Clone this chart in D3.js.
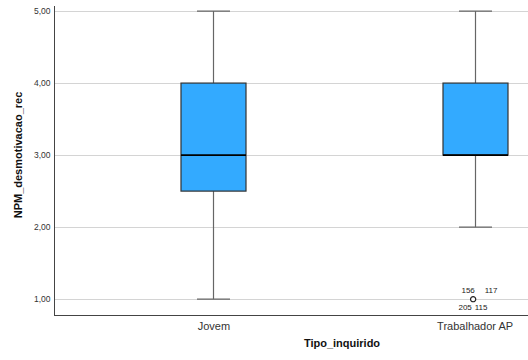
<!DOCTYPE html>
<html>
<head>
<meta charset="utf-8">
<script src="https://cdn.jsdelivr.net/npm/d3@7"></script>
<style>
  body { margin: 0; background: #fff; }
  svg { display: block; font-family: Arial, "Liberation Sans", sans-serif; }
</style>
</head>
<body>
<svg id="chart" width="528" height="360"></svg>
<script>
// Box-plot summaries per respondent type
const categories = ["Jovem", "Trabalhador AP"];
const whiskerLow = [1, 2];
const q1 = [2.5, 3];
const median = [3, 3];
const q3 = [4, 4];
const whiskerHigh = [5, 5];
const yTicks = [1, 2, 3, 4, 5];

// Outliers (category, value, case ids)
const outlierCategory = ["Trabalhador AP"];
const outlierValue = [1];
const outlierIds = [["156", "117", "205", "115"]];

const svg = d3.select("#chart");
const plotLeft = 54, plotTop = 6, plotBottom = 315, plotRight = 634;

const x = d3.scalePoint().domain(categories).range([plotLeft, plotRight]).padding(0.61);
const y = d3.scaleLinear().domain([0.78, 5.07]).range([plotBottom, plotTop]);
const fmt = v => d3.format(".2f")(v).replace(".", ",");

// grid lines
svg.append("g").selectAll("line").data(yTicks).join("line")
  .attr("x1", plotLeft).attr("x2", 528)
  .attr("y1", d => Math.round(y(d)) + 0.5).attr("y2", d => Math.round(y(d)) + 0.5)
  .attr("stroke", "#d4d4d4").attr("stroke-width", 1);

// y axis
const yAxis = svg.append("g").attr("transform", `translate(${plotLeft + 0.5},0)`)
  .call(d3.axisLeft(y).tickValues(yTicks).tickFormat(fmt).tickSize(0).tickPadding(4));
yAxis.select(".domain").attr("stroke", "#444").attr("d", `M0,${plotTop}V${plotBottom}`);
yAxis.selectAll("text").attr("font-size", 8.5).attr("fill", "#333")
  .attr("font-family", "Arial, 'Liberation Sans', sans-serif");

// x axis
const xAxis = svg.append("g").attr("transform", `translate(0,${plotBottom + 0.5})`)
  .call(d3.axisBottom(x).tickSize(0).tickPadding(7));
xAxis.select(".domain").attr("stroke", "#444").attr("d", `M${plotLeft},0H${plotRight}`);
xAxis.selectAll("text").attr("font-size", 11).attr("fill", "#333")
  .attr("font-family", "Arial, 'Liberation Sans', sans-serif");

const boxW = 65, capW = 33;
const rows = categories.map((c, i) => ({
  c, lo: whiskerLow[i], q1: q1[i], med: median[i], q3: q3[i], hi: whiskerHigh[i]
}));
const g = svg.append("g").selectAll("g").data(rows).join("g");
const cx = d => Math.round(x(d.c)) + 0.5;

// whiskers
g.append("line").attr("x1", cx).attr("x2", cx)
  .attr("y1", d => y(d.hi)).attr("y2", d => y(d.q3))
  .attr("stroke", "#666").attr("stroke-width", 1.2);
g.append("line").attr("x1", cx).attr("x2", cx)
  .attr("y1", d => y(d.q1)).attr("y2", d => y(d.lo))
  .attr("stroke", "#666").attr("stroke-width", 1.2);
// caps
["hi", "lo"].forEach(k => {
  g.append("line")
    .attr("x1", d => cx(d) - capW / 2).attr("x2", d => cx(d) + capW / 2)
    .attr("y1", d => y(d[k])).attr("y2", d => y(d[k]))
    .attr("stroke", "#666").attr("stroke-width", 1.2);
});
// boxes
g.append("rect")
  .attr("x", d => cx(d) - boxW / 2).attr("width", boxW)
  .attr("y", d => y(d.q3)).attr("height", d => y(d.q1) - y(d.q3))
  .attr("fill", "#33aaff").attr("stroke", "#333").attr("stroke-width", 1.2);
// medians
g.append("line")
  .attr("x1", d => cx(d) - boxW / 2).attr("x2", d => cx(d) + boxW / 2)
  .attr("y1", d => y(d.med)).attr("y2", d => y(d.med))
  .attr("stroke", "#000").attr("stroke-width", 1.8);

// outliers
const outs = outlierCategory.map((c, i) => ({ c, v: outlierValue[i], ids: outlierIds[i] }));
const og = svg.append("g").selectAll("g").data(outs).join("g")
  .attr("transform", d => `translate(${x(d.c) - 1.5},${y(d.v)})`);
og.append("circle").attr("r", 2.6).attr("fill", "#fff")
  .attr("stroke", "#222").attr("stroke-width", 1.2);
const labelOffsets = [[-5, -6], [18, -6], [-8, 11], [8, 11]];
og.each(function(d) {
  d3.select(this).selectAll("text").data(d.ids).join("text")
    .attr("x", (t, j) => labelOffsets[j][0])
    .attr("y", (t, j) => labelOffsets[j][1])
    .attr("text-anchor", "middle")
    .attr("font-size", 8).attr("fill", "#222")
    .text(t => t);
});

// axis titles
svg.append("text").attr("x", 342).attr("y", 347).attr("text-anchor", "middle")
  .attr("font-size", 11).attr("font-weight", "bold").attr("fill", "#111")
  .text("Tipo_inquirido");
svg.append("text").attr("transform", "translate(22,155) rotate(-90)")
  .attr("text-anchor", "middle")
  .attr("font-size", 11).attr("font-weight", "bold").attr("fill", "#111")
  .text("NPM_desmotivacao_rec");
</script>
</body>
</html>
